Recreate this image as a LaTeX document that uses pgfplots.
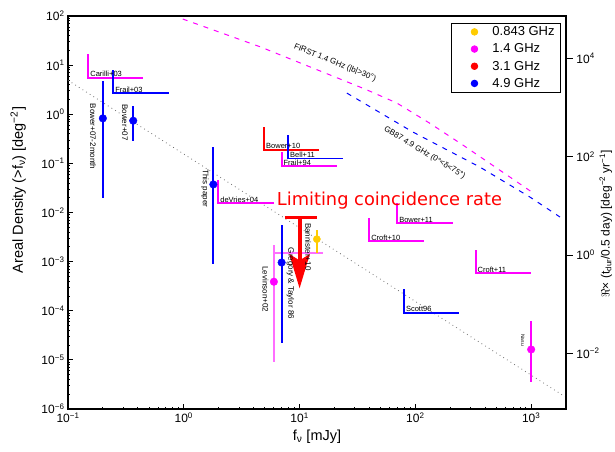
\documentclass[border=0pt]{standalone}
\usepackage{pgfplots}
\pgfplotsset{compat=1.18}
\usepackage{fontspec}
\setmainfont{Liberation Sans}
\newfontfamily\dejavu{DejaVu Sans}
\usetikzlibrary{arrows.meta}
\definecolor{cgold}{RGB}{255,204,0}
\definecolor{cmag}{RGB}{255,0,255}
\definecolor{lmag}{RGB}{255,110,255}
\definecolor{cblue}{RGB}{0,0,255}
\definecolor{cred}{RGB}{255,0,0}
\definecolor{cgray}{RGB}{110,110,110}
\newcommand{\logtick}{\pgfmathtruncatemacro{\e}{round(\tick)}10\textsuperscript{\ifnum\e<0 −\number-\e\else\e\fi}}
\newcommand{\legdot}[1]{\path[draw=none,fill=none] (-19pt,-3pt) rectangle (16pt,3pt);\fill[#1] (0pt,0pt) circle (3.3pt);}
\tikzset{
  lbl/.style={font=\fontsize{7.5}{8}\selectfont, anchor=south west, inner sep=0.8pt, xshift=1pt},
  rlbl/.style={font=\fontsize{8}{9}\selectfont, rotate=-90, anchor=center, inner sep=0pt},
}
\begin{document}
\begin{tikzpicture}
\useasboundingbox (-68pt,-42pt) rectangle (547pt,409pt);
\begin{axis}[
  at={(0pt,0pt)}, anchor=south west,
  scale only axis, width=498pt, height=393pt,
  xmode=log, ymode=log, log basis x=10, log basis y=10,
  xmin=0.1, xmax=2000, ymin=1e-6, ymax=100,
  axis line style={line width=1.6pt},
  tick align=inside, xtick pos=left, ytick pos=left,
  major tick length=5pt, minor tick length=2.5pt,
  every tick/.style={black, line width=0.8pt},
  xticklabel={\logtick}, yticklabel={\logtick},
  tick label style={font=\fontsize{12}{14}\selectfont},
  xlabel={f\textsubscript{ν} [mJy]},
  ylabel={Areal Density (>f\textsubscript{ν}) [deg\textsuperscript{−2}]},
  label style={font=\fontsize{14.5}{16}\selectfont},
  xlabel style={at={(axis description cs:0.5,-0.07)}, anchor=center},
  ylabel style={at={(axis description cs:-0.10,0.557)}, anchor=center},
  legend entries={0.843 GHz, 1.4 GHz, 3.1 GHz, 4.9 GHz},
  legend cell align=left,
  legend style={at={(axis description cs:0.990,0.983)}, anchor=north east, draw=black, line width=0.8pt,
    font=\fontsize{13}{15}\selectfont, row sep=2.6pt, inner xsep=4pt, inner ysep=1.5pt},
]
\addlegendimage{legend image code/.code={\legdot{cgold}}}
\addlegendimage{legend image code/.code={\legdot{cmag}}}
\addlegendimage{legend image code/.code={\legdot{cred}}}
\addlegendimage{legend image code/.code={\legdot{cblue}}}

% Euclidean reference line
\addplot[draw=cgray, line width=0.8pt, dash pattern=on 0.8pt off 3.5pt] coordinates {(0.1,4.9) (2000,1.73e-6)};
% FIRST 1.4 GHz
\addplot[draw=cmag, line width=1pt, dash pattern=on 5pt off 6pt] coordinates {(0.98,86.9) (4.55,23.7) (36.7,3.26) (69.3,1.69) (133.7,0.653) (257.6,0.236) (656,0.0526) (1016,0.026)};
% GB87 4.9 GHz
\addplot[draw=cblue, line width=1pt, dash pattern=on 5pt off 6pt] coordinates {(25.6,2.70) (95.3,0.434) (361,0.0841) (977,0.0206) (1774,0.0081)};

% limits
\addplot[draw=cmag, line width=1.9pt] coordinates {(0.15,16.8) (0.15,5.53) (0.447,5.53)};
\addplot[draw=cblue, line width=1.9pt] coordinates {(0.246,7.94) (0.246,2.67) (0.75,2.67)};
\addplot[draw=cred, line width=1.9pt] coordinates {(4.95,0.541) (4.95,0.187) (14.8,0.187)};
\addplot[draw=cblue, line width=1.9pt] coordinates {(7.98,0.377) (7.98,0.126) (23.8,0.126)};
\addplot[draw=cmag, line width=1.9pt] coordinates {(7.0,0.172) (7.0,0.088) (20.9,0.088)};
\addplot[draw=cmag, line width=1.9pt] coordinates {(1.99,0.0457) (1.99,0.0153) (6.0,0.0153)};
\addplot[draw=cmag, line width=1.9pt] coordinates {(69.8,0.0153) (69.8,6.0e-3) (210,6.0e-3)};
\addplot[draw=cmag, line width=1.9pt] coordinates {(40,7.58e-3) (40,2.62e-3) (119,2.62e-3)};
\addplot[draw=cmag, line width=1.9pt] coordinates {(332,1.71e-3) (332,5.75e-4) (991,5.75e-4)};
\addplot[draw=cblue, line width=1.9pt] coordinates {(79.8,2.72e-4) (79.8,9.06e-5) (239,9.06e-5)};
\addplot[draw=lmag, line width=1.9pt] coordinates {(5.89,1.47e-3) (15.8,1.47e-3)};

% limiting coincidence rate arrow
\addplot[draw=cred, line width=3.5pt] coordinates {(7.46,7.94e-3) (14.2,7.94e-3)};
\addplot[draw=cred, fill=cred, line width=4pt, -{Stealth[length=34pt,width=20pt,inset=6pt]}] coordinates {(10,7.94e-3) (10,2.85e-4)};

% error bars
\addplot[draw=cblue, line width=1.9pt] coordinates {(0.2,4.8) (0.2,0.0194)};
\addplot[only marks, mark=*, mark size=3.8pt, color=cblue] coordinates {(0.2,0.826)};
\addplot[draw=cblue, line width=1.9pt] coordinates {(0.366,1.47) (0.366,0.288)};
\addplot[only marks, mark=*, mark size=3.8pt, color=cblue] coordinates {(0.366,0.738)};
\addplot[draw=cblue, line width=1.9pt] coordinates {(1.8,0.212) (1.8,8.8e-4)};
\addplot[only marks, mark=*, mark size=3.8pt, color=cblue] coordinates {(1.8,0.0373)};
\addplot[draw=lmag, line width=1.9pt] coordinates {(6.0,2.17e-3) (6.0,8.9e-6)};
\addplot[only marks, mark=*, mark size=3.8pt, color=cmag] coordinates {(6.0,3.9e-4)};
\addplot[draw=cblue, line width=1.9pt] coordinates {(7.0,5.5e-3) (7.0,2.2e-5)};
\addplot[only marks, mark=*, mark size=3.8pt, color=cblue] coordinates {(7.0,9.6e-4)};
\addplot[draw=cgold, line width=1.9pt] coordinates {(14.1,4.39e-3) (14.1,1.47e-3)};
\addplot[only marks, mark=*, mark size=3.6pt, color=cgold] coordinates {(14.1,2.87e-3)};
\addplot[draw=cmag, line width=1.9pt] coordinates {(1000,6.1e-5) (1000,3.56e-6)};
\addplot[only marks, mark=*, mark size=3.8pt, color=cmag] coordinates {(1000,1.63e-5)};

% labels
\node[lbl] at (axis cs:0.15,5.53) {Carilli+03};
\node[lbl] at (axis cs:0.246,2.67) {Frail+03};
\node[lbl] at (axis cs:4.95,0.187) {Bower+10};
\node[lbl] at (axis cs:7.98,0.126) {Bell+11};
\node[lbl] at (axis cs:7.0,0.088) {Frail+94};
\node[lbl] at (axis cs:1.99,0.0153) {deVries+04};
\node[lbl] at (axis cs:69.8,6.0e-3) {Bower+11};
\node[lbl] at (axis cs:40,2.62e-3) {Croft+10};
\node[lbl] at (axis cs:332,5.75e-4) {Croft+11};
\node[lbl] at (axis cs:79.8,9.06e-5) {Scott96};

\node[rlbl] at (axis cs:0.164,0.352) {Bower+07-2month};
\node[rlbl] at (axis cs:0.31,0.678) {Bower+07};
\node[rlbl] at (axis cs:1.52,0.031) {This paper};
\node[rlbl] at (axis cs:8.32,3.6e-4) {Gregory \& Taylor 86};
\node[rlbl] at (axis cs:5.08,2.73e-4) {Levinson+02};
\node[rlbl] at (axis cs:11.9,2.0e-3) {Bannister+10};
\node[rlbl, font=\fontsize{5}{6}\selectfont] at (axis cs:849,2.52e-5) {Nasu};

\node[rotate=-22, font=\fontsize{8}{9}\selectfont] at (axis cs:20.2,11.2) {FIRST 1.4 GHz (|b|>30°)};
\node[rotate=-31, font=\fontsize{8}{9}\selectfont] at (axis cs:120,0.165) {GB87 4.9 GHz (0°<δ<75°)};

\node[text=cred, anchor=base, font=\dejavu\fontsize{17.8}{20}\selectfont] at (axis cs:59.7,0.0142) {Limiting coincidence rate};
\end{axis}
\begin{axis}[
  at={(0pt,0pt)}, anchor=south west,
  scale only axis, width=498pt, height=393pt,
  xmode=log, xmin=0.1, xmax=2000,
  ymode=log, log basis y=10, ymin=7.305e-4, ymax=73050,
  axis x line=none, axis y line*=right,
  axis line style={line width=1.6pt},
  ytick={1e-2,1,1e2,1e4}, yminorticks=false,
  tick align=outside, major tick length=7pt,
  every tick/.style={black, line width=0.8pt},
  yticklabel={\logtick},
  tick label style={font=\fontsize{12}{14}\selectfont},
  ylabel={$\Re$× (t\textsubscript{dur}/0.5 day) [deg\textsuperscript{−2} yr\textsuperscript{−1}]},
  ylabel style={at={(axis description cs:1.080,0.471)}, anchor=center, font=\fontsize{12}{14}\selectfont},
]
\addplot[draw=none] coordinates {(1,1)};
\end{axis}
\end{tikzpicture}
\end{document}
